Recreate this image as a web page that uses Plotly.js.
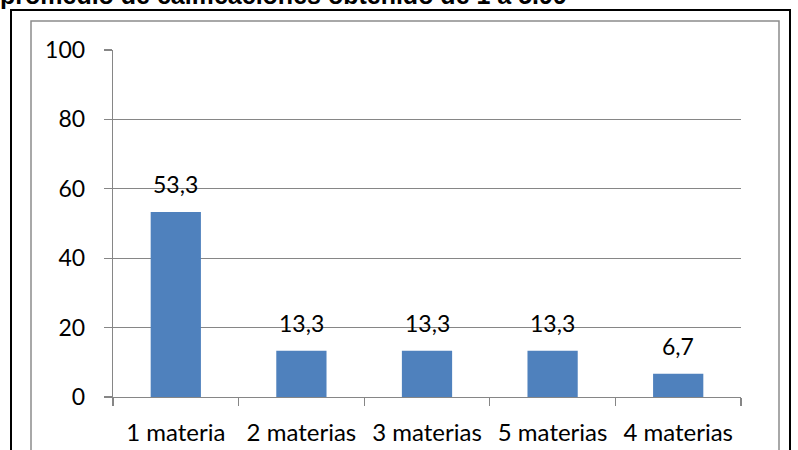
<!DOCTYPE html>
<html>
<head>
<meta charset="utf-8">
<script src="https://cdn.plot.ly/plotly-3.0.1.min.js"></script>
<style>
html,body{margin:0;padding:0;background:#fff;}
#chart{width:798px;height:450px;}
</style>
</head>
<body>
<div id="chart"></div>
<script>
var categories = ["1 materia", "2 materias", "3 materias", "5 materias", "4 materias"];
var values = [53.3, 13.3, 13.3, 13.3, 6.7];
var yTicks = [0, 20, 40, 60, 80, 100];
var titleText = "promedio de calificaciones obtenido de 1 a 5.99";

var W = 798, H = 450;
var M = {l: 113, r: 57, t: 50, b: 53};
var pw = W - M.l - M.r, ph = H - M.t - M.b;
function px(x){ return (x - M.l) / pw; }
function py(y){ return (H - M.b - y) / ph; }

var FONT = "Lato, 'Open Sans', sans-serif";

var labelAnn = categories.map(function(c, i){
  return {
    x: c, y: values[i], xref: 'x', yref: 'y',
    text: values[i].toFixed(1).replace('.', ','),
    showarrow: false, yanchor: 'bottom', yshift: 12,
    font: {family: FONT, size: 23, color: '#000'}
  };
});

labelAnn.push({
  x: px(-2), y: py(11), xref: 'paper', yref: 'paper',
  xanchor: 'left', yanchor: 'bottom',
  text: '<b>' + titleText + '</b>', showarrow: false,
  font: {family: "'Liberation Sans', Arial, sans-serif", size: 25, color: '#000'}
});

var trace = {
  type: 'bar', x: categories, y: values,
  marker: {color: '#4F81BD', line: {width: 0}},
  hoverinfo: 'none'
};

var layout = {
  width: W, height: H,
  margin: M,
  paper_bgcolor: '#fff', plot_bgcolor: '#fff',
  showlegend: false,
  bargap: 0.6,
  xaxis: {
    type: 'category',
    tickson: 'boundaries',
    ticks: 'outside', ticklen: 8, tickwidth: 1.3, tickcolor: '#868686',
    showline: true, linecolor: '#868686', linewidth: 1.3,
    showgrid: false, zeroline: false,
    tickfont: {family: FONT, size: 24, color: '#000'},
    ticklabelstandoff: 14
  },
  yaxis: {
    range: [0, 100],
    tickvals: yTicks,
    ticktext: yTicks.map(String),
    ticks: 'outside', ticklen: 8, tickwidth: 1.3, tickcolor: '#868686',
    showline: true, linecolor: '#868686', linewidth: 1.3,
    showgrid: true, gridcolor: '#868686', gridwidth: 1.3,
    zeroline: false,
    tickfont: {family: FONT, size: 23, color: '#000'},
    ticklabelstandoff: 14
  },
  annotations: labelAnn,
  shapes: [
    {type: 'rect', xref: 'paper', yref: 'paper', layer: 'below',
     x0: px(31), x1: px(779), y0: py(470), y1: py(21),
     line: {color: '#8c8c8c', width: 1.5}, fillcolor: 'rgba(0,0,0,0)'},
    {type: 'rect', xref: 'paper', yref: 'paper', layer: 'below',
     x0: px(11), x1: px(790), y0: py(470), y1: py(10),
     line: {color: '#000', width: 2}, fillcolor: 'rgba(0,0,0,0)'}
  ]
};

Plotly.newPlot('chart', [trace], layout, {displayModeBar: false, staticPlot: true});
</script>
</body>
</html>
